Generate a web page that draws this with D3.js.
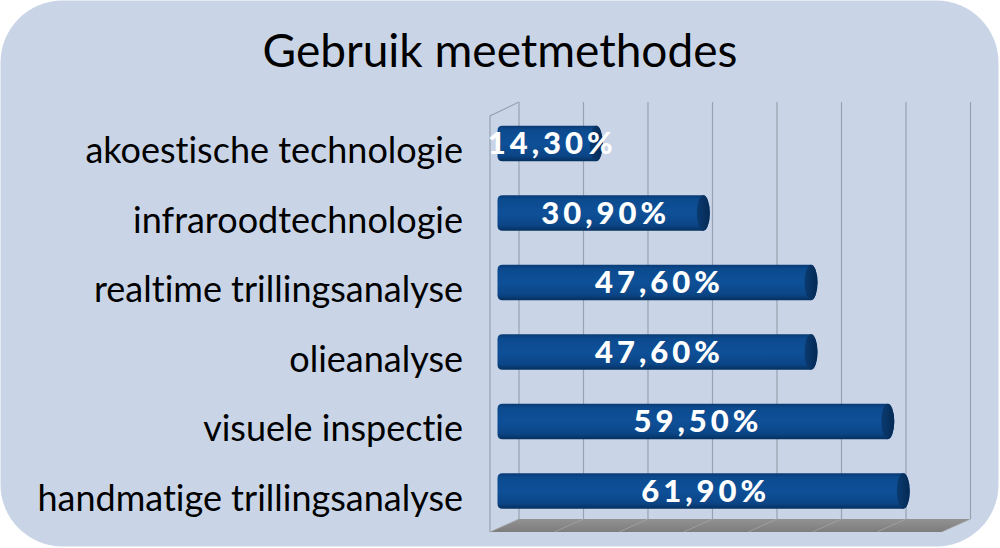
<!DOCTYPE html>
<html><head><meta charset="utf-8">
<script src="https://cdn.jsdelivr.net/npm/d3@7"></script>
<style>html,body{margin:0;padding:0;background:#fff}svg{display:block}text{font-variant-ligatures:none;font-feature-settings:"liga" 0}</style>
</head><body>
<svg id="chart" width="1000" height="548"></svg>
<script>
// ---- data ----
const title = "Gebruik meetmethodes";
const categories = ["akoestische technologie","infraroodtechnologie","realtime trillingsanalyse","olieanalyse","visuele inspectie","handmatige trillingsanalyse"];
const values = [14.3, 30.9, 47.6, 47.6, 59.5, 61.9];
const valueLabels = ["14,30%","30,90%","47,60%","47,60%","59,50%","61,90%"];
const gridTicks = [0,10,20,30,40,50,60,70];

// ---- layout ----
const svg = d3.select("#chart");
const W = 1000, H = 548;
const x = d3.scaleLinear().domain([0,70]).range([504,955.5]);
const y = d3.scaleBand().domain(categories).range([91.7,542.7]).padding(0.49);
const depthBack = {dx: 15};
const depthFront = {dx: -14};
const floorBackY = 519, floorFrontY = 532;
const wallTopBack = 102, wallTopFront = 116;

const defs = svg.append("defs");
const gBody = defs.append("linearGradient").attr("id","body").attr("x1",0).attr("y1",0).attr("x2",0).attr("y2",1);
[[0,"#0a3a74"],[0.12,"#0c4a8e"],[0.5,"#0e5098"],[0.85,"#0b4586"],[1,"#06305f"]].forEach(s=>gBody.append("stop").attr("offset",s[0]).attr("stop-color",s[1]));
const gCap = defs.append("linearGradient").attr("id","cap").attr("x1",0).attr("y1",0).attr("x2",1).attr("y2",0);
[[0,"#0a3a70"],[1,"#052a55"]].forEach(s=>gCap.append("stop").attr("offset",s[0]).attr("stop-color",s[1]));
const gFloor = defs.append("linearGradient").attr("id","floor").attr("x1",0).attr("y1",0).attr("x2",0).attr("y2",1);
[[0,"#929292"],[1,"#7d7d7d"]].forEach(s=>gFloor.append("stop").attr("offset",s[0]).attr("stop-color",s[1]));

// panel
svg.append("rect").attr("x",0.5).attr("y",0.5).attr("width",W-2).attr("height",H-2)
  .attr("rx",62).attr("ry",62).attr("fill","#c9d5e7");

// title
svg.append("text").attr("x",500).attr("y",67).attr("text-anchor","middle")
  .attr("font-family","Lato, 'Open Sans', sans-serif").attr("font-size",46).attr("fill","#000")
  .text(title);

// floor
const fx0 = x(0)+depthBack.dx, fx1 = x(70)+depthBack.dx, dxd = depthFront.dx-depthBack.dx;
svg.append("path").attr("d",`M${fx0+dxd},${floorFrontY}L${fx0},${floorBackY}L${fx1},${floorBackY}L${fx1+dxd},${floorFrontY}Z`)
  .attr("fill","url(#floor)");
svg.selectAll("line.fgrid").data(gridTicks).join("line").attr("class","fgrid")
  .attr("x1",d=>x(d)+depthBack.dx).attr("y1",floorBackY)
  .attr("x2",d=>x(d)+depthBack.dx+dxd).attr("y2",floorFrontY)
  .attr("stroke","#a4a4a4").attr("stroke-width",0.8);

// back wall gridlines
svg.selectAll("line.grid").data(gridTicks).join("line").attr("class","grid")
  .attr("x1",d=>x(d)+depthBack.dx).attr("x2",d=>x(d)+depthBack.dx)
  .attr("y1",wallTopBack).attr("y2",floorBackY)
  .attr("stroke","#98a2b0").attr("stroke-width",1.2);
// left wall
const lx = x(0)+depthFront.dx;
svg.append("path").attr("d",`M${lx},${floorFrontY}L${lx},${wallTopFront}L${fx0},${wallTopBack}`)
  .attr("fill","none").attr("stroke","#98a2b0").attr("stroke-width",1.2);

// bars (cylinders)
const rx = 6.5;
const bars = svg.selectAll("g.bar").data(categories.map((c,i)=>({c,v:values[i],l:valueLabels[i]}))).join("g").attr("class","bar");
bars.append("path").attr("d",d=>{
  const x0 = x(0), x1 = x(d.v), y0 = y(d.c), h = y.bandwidth(), y1 = y0+h, r = 5;
  return `M${x0-rx+r},${y0}L${x1},${y0}A${rx},${h/2} 0 0 1 ${x1},${y1}L${x0-rx+r},${y1}Q${x0-rx},${y1} ${x0-rx},${y1-r}L${x0-rx},${y0+r}Q${x0-rx},${y0} ${x0-rx+r},${y0}Z`;
}).attr("fill","url(#body)");
bars.append("ellipse").attr("cx",d=>x(d.v)).attr("cy",d=>y(d.c)+y.bandwidth()/2)
  .attr("rx",rx).attr("ry",y.bandwidth()/2).attr("fill","url(#cap)");
bars.append("text").attr("class","val")
  .attr("x",d=>(x(0)-rx+x(d.v)+rx)/2+2).attr("y",d=>y(d.c)+y.bandwidth()/2+11)
  .attr("text-anchor","middle").attr("fill","#fff")
  .attr("font-family","Lato, 'Open Sans', sans-serif").attr("font-weight",900).attr("font-size",31)
  .attr("letter-spacing",4)
  .text(d=>d.l);

// category labels
svg.selectAll("text.cat").data(categories).join("text").attr("class","cat")
  .attr("x",463).attr("y",d=>y(d)+y.bandwidth()/2+20).attr("text-anchor","end")
  .attr("font-family","Lato, 'Open Sans', sans-serif").attr("font-size",36).attr("fill","#000")
  .text(d=>d);
</script>
</body></html>
